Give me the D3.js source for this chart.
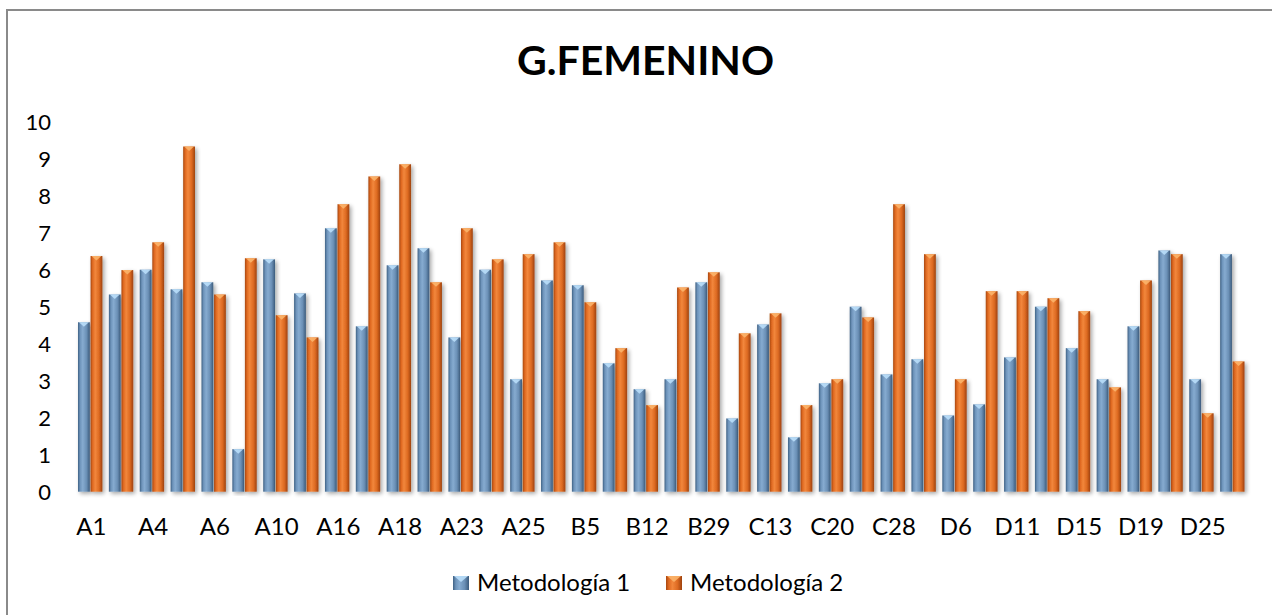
<!DOCTYPE html>
<html>
<head>
<meta charset="utf-8">
<script src="https://cdn.jsdelivr.net/npm/d3@7"></script>
<style>
  html, body { margin: 0; padding: 0; background: #fff; }
  svg { display: block; }
  text { font-family: Lato, "Open Sans", sans-serif; fill: #000; }
</style>
</head>
<body>
<svg id="chart" width="1272" height="615"></svg>
<script>
// Grupos evaluados (se rotula uno de cada dos en el eje)
const categories = ["A1","A3","A4","A5","A6","A9","A10","A14","A16","A17",
  "A18","A21","A23","A24","A25","B2","B5","B8","B12","B15",
  "B29","C5","C13","C17","C20","C22","C28","D3","D6","D9",
  "D11","D14","D15","D17","D19","D22","D25","D27"];

const metodologia1 = [4.58, 5.33, 6.00, 5.47, 5.66, 1.15, 6.28, 5.36, 7.12, 4.47,
  6.12, 6.58, 4.17, 6.00, 3.04, 5.71, 5.58, 3.47, 2.77, 3.04,
  5.66, 1.98, 4.52, 1.47, 2.93, 5.00, 3.17, 3.58, 2.06, 2.36,
  3.63, 5.00, 3.88, 3.04, 4.47, 6.52, 3.04, 6.42];

const metodologia2 = [6.37, 5.99, 6.74, 9.33, 5.33, 6.31, 4.77, 4.17, 7.77, 8.52,
  8.85, 5.66, 7.12, 6.28, 6.42, 6.74, 5.12, 3.88, 2.34, 5.52,
  5.93, 4.28, 4.82, 2.34, 3.04, 4.71, 7.77, 6.42, 3.04, 5.42,
  5.42, 5.23, 4.88, 2.82, 5.71, 6.42, 2.12, 3.52];

const seriesNames = ["Metodología 1", "Metodología 2"];
const yTicks = [0, 1, 2, 3, 4, 5, 6, 7, 8, 9, 10];
const title = "G.FEMENINO";

const svg = d3.select("#chart");
const plot = { left: 76, right: 1249, top: 121.7, bottom: 491.7 };

// Marco del gráfico
svg.append("rect")
  .attr("x", 7).attr("y", 10)
  .attr("width", 1290).attr("height", 640)
  .attr("fill", "#fff")
  .attr("stroke", "#8a8a8a").attr("stroke-width", 2);

const defs = svg.append("defs");

// Degradados horizontales de las columnas
const palettes = [
  ["#3f6184", "#6e94bb", "#86abd0", "#6b90b6", "#3c5b7c"],
  ["#a8470f", "#e06a22", "#f2873c", "#dd6a22", "#9e420e"]
];
palettes.forEach((stops, i) => {
  const g = defs.append("linearGradient")
    .attr("id", "grad" + i)
    .attr("x1", "0%").attr("x2", "100%").attr("y1", "0%").attr("y2", "0%");
  [0, 0.18, 0.4, 0.72, 1].forEach((o, k) => {
    g.append("stop").attr("offset", o).attr("stop-color", stops[k]);
  });
});

// Sombra suave bajo columnas y ejes
const f = defs.append("filter").attr("id", "shadow")
  .attr("x", "-50%").attr("y", "-10%").attr("width", "200%").attr("height", "120%");
f.append("feGaussianBlur").attr("in", "SourceAlpha").attr("stdDeviation", 2.2).attr("result", "b");
f.append("feOffset").attr("in", "b").attr("dx", 2).attr("dy", 2).attr("result", "o");
f.append("feComponentTransfer").attr("in", "o").attr("result", "s")
  .append("feFuncA").attr("type", "linear").attr("slope", 0.35);
const fm = f.append("feMerge");
fm.append("feMergeNode").attr("in", "s");
fm.append("feMergeNode").attr("in", "SourceGraphic");

// Escalas
const x0 = d3.scaleBand().domain(categories).range([plot.left, plot.right]).padding(0);
const x1 = d3.scaleBand().domain(seriesNames)
  .range([2, x0.bandwidth() - 4.5]).paddingInner(0.06);
const y = d3.scaleLinear().domain([0, 10]).range([plot.bottom, plot.top]);

// Líneas de división
svg.append("g")
  .selectAll("line")
  .data(yTicks.filter(t => t > 0))
  .join("line")
  .attr("x1", plot.left).attr("x2", plot.right)
  .attr("y1", d => y(d)).attr("y2", d => y(d))
  .attr("stroke", "#8c8c8c").attr("stroke-width", 1.6)
  .attr("filter", "url(#shadow)");

// Eje Y
const yAxis = svg.append("g")
  .attr("transform", `translate(${plot.left},0)`)
  .call(d3.axisLeft(y).tickValues(yTicks).tickSize(0).tickPadding(25).tickFormat(d3.format("d")));
yAxis.select(".domain").remove();
yAxis.selectAll("text")
  .style("font-size", "22px")
  .attr("dy", "0.36em")
  .attr("fill", "#000");

// Columnas
const data = categories.map((c, i) => ({ cat: c, vals: [metodologia1[i], metodologia2[i]] }));
const groups = svg.append("g")
  .selectAll("g")
  .data(data)
  .join("g")
  .attr("transform", d => `translate(${x0(d.cat)},0)`);

const bars = groups.selectAll("g.bar")
  .data(d => d.vals.map((v, k) => ({ key: seriesNames[k], k, v })))
  .join("g").attr("class", "bar");

bars.append("rect")
  .attr("x", d => x1(d.key))
  .attr("y", d => y(d.v))
  .attr("width", x1.bandwidth())
  .attr("height", d => y(0) - y(d.v))
  .attr("fill", d => `url(#grad${d.k})`)
  .attr("filter", "url(#shadow)");

// Biselado superior de cada columna
const bevel = ["#b9defa", "#fbb46a"];
bars.append("path")
  .attr("d", d => {
    const xl = x1(d.key), w = x1.bandwidth(), t = y(d.v);
    return `M${xl + 1},${t}L${xl + w - 1},${t}L${xl + w / 2},${t + 4.5}Z`;
  })
  .attr("fill", d => bevel[d.k])
  .attr("opacity", 0.9);

// Eje X
svg.append("line")
  .attr("x1", plot.left).attr("x2", plot.right)
  .attr("y1", y(0)).attr("y2", y(0))
  .attr("stroke", "#8c8c8c").attr("stroke-width", 2)
  .attr("filter", "url(#shadow)");

const xAxis = svg.append("g")
  .attr("transform", `translate(0,${plot.bottom})`)
  .call(d3.axisBottom(x0).tickValues(categories.filter((c, i) => i % 2 === 0))
    .tickSize(0).tickPadding(0));
xAxis.select(".domain").remove();
xAxis.selectAll("text")
  .style("font-size", "24px")
  .attr("y", 43.5).attr("dy", 0)
  .attr("fill", "#000");

// Título
svg.append("text")
  .attr("x", 645.5).attr("y", 75)
  .attr("text-anchor", "middle")
  .style("font-size", "41px").style("font-weight", "bold")
  .text(title);

// Leyenda
const legendX = [453, 666];
const legend = svg.append("g")
  .selectAll("g")
  .data(seriesNames)
  .join("g")
  .attr("transform", (d, i) => `translate(${legendX[i]},576)`);
legend.append("rect")
  .attr("width", 16).attr("height", 14)
  .attr("fill", (d, i) => `url(#grad${i})`);
legend.append("path")
  .attr("d", "M1,0L15,0L8,6Z")
  .attr("fill", (d, i) => bevel[i]).attr("opacity", 0.9);
legend.append("text")
  .attr("x", 24).attr("y", 15)
  .style("font-size", "24px")
  .text(d => d);
</script>
</body>
</html>
